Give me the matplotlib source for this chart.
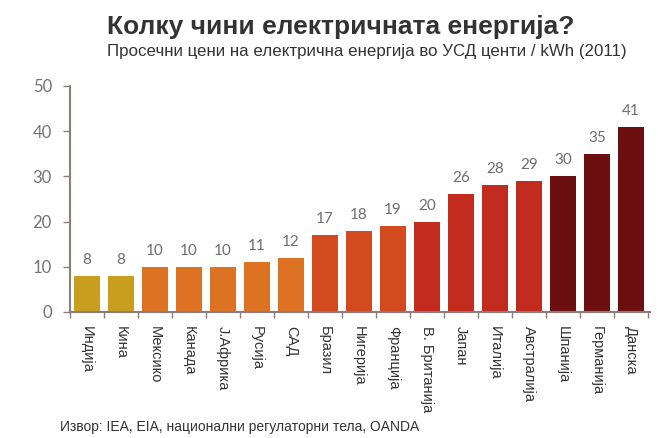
import numpy as np
import matplotlib.pyplot as plt
from matplotlib.ticker import FixedLocator

countries = ["Индија", "Кина", "Мексико", "Канада", "Ј.Африка", "Русија", "САД",
             "Бразил", "Нигерија", "Франција", "В. Британија", "Јапан", "Италија",
             "Австралија", "Шпанија", "Германија", "Данска"]
prices = [8, 8, 10, 10, 10, 11, 12, 17, 18, 19, 20, 26, 28, 29, 30, 35, 41]
groups = [0, 0, 1, 1, 1, 1, 1, 2, 2, 2, 3, 3, 3, 3, 4, 4, 4]
group_colors = ["#C99E1F", "#DC7222", "#D24A1E", "#C42B1F", "#6C0F10"]

axis_col = "#8C7C7A"
text_col = "#6E6E6E"
sans = ["Liberation Sans", "DejaVu Sans"]

fig = plt.figure(figsize=(6.62, 4.38), dpi=100)
ax = fig.add_axes([0.1057, 0.2877, 0.876, 0.516])

x = np.arange(len(countries))
colors = [group_colors[g] for g in groups]
ax.bar(x, prices, width=0.77, color=colors, zorder=2)

for xi, v in zip(x, prices):
    ax.text(xi, v + 2.0, str(v), ha="center", va="bottom", fontsize=11,
            color=text_col, family=["Lato", "DejaVu Sans"])

ax.set_ylim(0, 50)
ax.set_xlim(-0.5, 16.56)
ax.set_yticks(range(0, 51, 10))
ax.tick_params(axis="y", direction="out", length=5, width=1, colors=axis_col,
               labelcolor="#7A7070", labelsize=12, pad=8)
for lbl in ax.get_yticklabels():
    lbl.set_family(["Lato", "DejaVu Sans"])

ax.set_xticks(x)
ax.set_xticklabels(countries, rotation=270, fontsize=10.5, color="#333333",
                   family=sans)
ax.tick_params(axis="x", which="major", length=0, pad=10)
ax.xaxis.set_minor_locator(FixedLocator(np.arange(-0.5, 16.6, 1)))
ax.tick_params(axis="x", which="minor", direction="out", length=4, width=1,
               colors=axis_col)

for side in ["top", "right"]:
    ax.spines[side].set_visible(False)
for side in ["left", "bottom"]:
    ax.spines[side].set_color(axis_col)
    ax.spines[side].set_linewidth(1.5)

fig.text(0.162, 0.922, "Колку чини електричната енергија?", fontsize=19,
         fontweight="bold", color="#333333", family=sans)
fig.text(0.162, 0.872, "Просечни цени на електрична енергија во УСД центи / kWh (2011)",
         fontsize=12.2, color="#333333", family=sans)
fig.text(0.09, 0.016, "Извор: IEA, EIA, национални регулаторни тела, OANDA",
         fontsize=10, color="#333333", family=sans)

fig.savefig("out.png", dpi=100)
